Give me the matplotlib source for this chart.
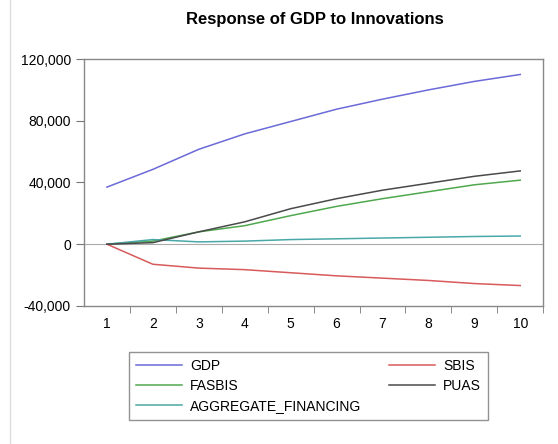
import matplotlib
matplotlib.use("Agg")
import matplotlib.pyplot as plt
from matplotlib.ticker import FuncFormatter, FixedLocator

plt.rcParams['font.family'] = ['Liberation Sans', 'DejaVu Sans']

periods = [1, 2, 3, 4, 5, 6, 7, 8, 9, 10]
gdp = [37000, 48500, 61500, 71500, 79500, 87500, 94000, 100000, 105500, 110000]
sbis = [0, -13000, -15500, -16500, -18500, -20500, -22000, -23500, -25500, -26800]
fasbis = [0, 2000, 8000, 12000, 18500, 24500, 29500, 34000, 38500, 41500]
puas = [0, 1000, 8000, 14500, 23000, 29500, 35000, 39500, 44000, 47500]
agg_fin = [0, 3000, 1500, 2000, 3000, 3500, 4000, 4500, 5000, 5300]

series = [
    ("GDP", gdp, "#6a6ad8"),
    ("FASBIS", fasbis, "#4fa84f"),
    ("AGGREGATE_FINANCING", agg_fin, "#4aa8a8"),
    ("SBIS", sbis, "#d85a5a"),
    ("PUAS", puas, "#4a4a4a"),
]

fig = plt.figure(figsize=(5.58, 4.44), dpi=100)
ax = fig.add_axes([0.1505, 0.311, 0.823, 0.556])

ax.axhline(0, color="#aaaaaa", linewidth=0.8, zorder=1)
for nombre, valores, color in series:
    ax.plot(periods, valores, color=color, linewidth=1.1, label=nombre, zorder=2)

ax.set_xlim(0.5, 10.5)
ax.set_ylim(-40000, 120000)
ax.set_yticks([-40000, 0, 40000, 80000, 120000])
ax.yaxis.set_major_formatter(FuncFormatter(lambda v, p: format(int(v), ",")))
ax.set_xticks(periods)
ax.xaxis.set_minor_locator(FixedLocator([p + 0.5 for p in periods]))
ax.tick_params(axis="x", which="major", length=0, pad=8, labelsize=10)
ax.tick_params(axis="x", which="minor", length=5, color="#777777")
ax.tick_params(axis="y", length=6, color="#777777", labelsize=10)
for s in ax.spines.values():
    s.set_color("#888888")
    s.set_linewidth(1.0)

fig.text(0.565, 0.945, "Response of GDP to Innovations", ha="center",
         fontsize=12, fontweight="bold")

leg = ax.legend(loc="upper left", bbox_to_anchor=(0.098, -0.186), ncol=2,
                frameon=True, fancybox=False, fontsize=10, handlelength=3.3,
                handletextpad=0.6, columnspacing=2.0, labelspacing=0.45,
                borderpad=0.5, borderaxespad=0)
leg.get_frame().set_edgecolor("#777777")
leg.get_frame().set_linewidth(1.0)

fig.add_artist(plt.Line2D([0.018, 0.018], [0.0, 1.0], color="#dddddd", linewidth=1.0))

fig.savefig("out.png", dpi=100)
